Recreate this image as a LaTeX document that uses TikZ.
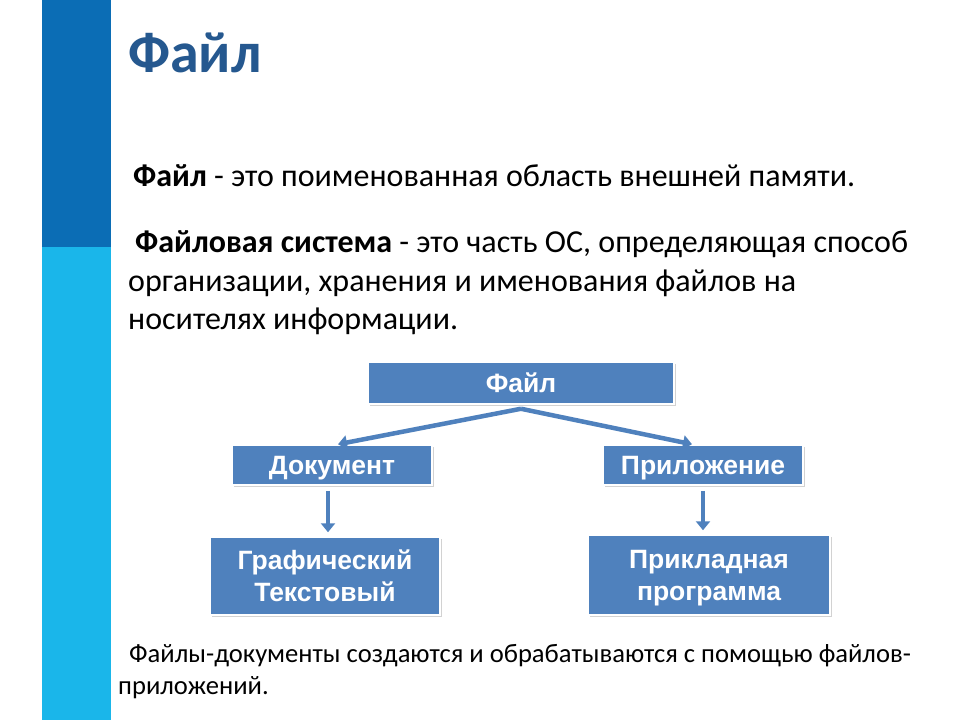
\documentclass[tikz,border=0pt]{standalone}
\usepackage{fontspec}
\setmainfont{Carlito}
\newfontfamily\boxfont{Liberation Sans}
\usetikzlibrary{arrows.meta,shadows}
\definecolor{bardark}{HTML}{0B6DB5}
\definecolor{barlight}{HTML}{1AB6EA}
\definecolor{titleblue}{HTML}{25588F}
\definecolor{boxblue}{HTML}{4F81BD}
\tikzset{
  bluebox/.style={fill=boxblue, draw=white, line width=1.5pt,
    drop shadow={shadow xshift=1.5pt, shadow yshift=-2pt, opacity=0.35},
    text=white, font=\boxfont\bfseries\fontsize{26.5}{32}\selectfont,
    align=center, inner sep=0pt, text depth=0pt},
  linkarrow/.style={draw=boxblue, line width=4.5pt,
    -{Triangle[width=14pt,length=9pt]}},
  bodytext/.style={anchor=base west, inner sep=0pt, font=\fontsize{32}{38}\selectfont},
  foottext/.style={anchor=base west, inner sep=0pt, font=\fontsize{26.6}{32}\selectfont},
}
\begin{document}
\begin{tikzpicture}[x=1pt,y=-1pt]
\useasboundingbox (0,0) rectangle (960,720);
\fill[white] (0,0) rectangle (960,720);
\fill[bardark] (42,0) rectangle (111,247);
\fill[barlight] (42,247) rectangle (111,720);

\node[anchor=base west, inner sep=0pt, text=titleblue,
  font=\bfseries\fontsize{58}{60}\selectfont] (title) at (128,72) {Файл};

\node[bodytext] (l1) at (133,186) {\textbf{Файл} - это поименованная область внешней памяти.};
\node[bodytext] (l2) at (135,252) {\textbf{Файловая система} - это часть ОС, определяющая способ};
\node[bodytext] (l3) at (128,291) {организации, хранения и именования файлов на};
\node[bodytext] (l4) at (128,329) {носителях информации.};

\node[bluebox, minimum width=306pt, minimum height=42pt] (fl) at (521,383) {Файл};
\node[bluebox, minimum width=200pt, minimum height=40pt] (doc) at (332,465) {Документ};
\node[bluebox, minimum width=200pt, minimum height=40pt] (app) at (703,465) {Приложение};
\node[bluebox, minimum width=230pt, minimum height=78pt] (gr) at (325,576) {Графический\\Текстовый};
\node[bluebox, minimum width=242pt, minimum height=80pt] (pr) at (709,575) {Прикладная\\программа};

\draw[linkarrow] ([yshift=-4pt]fl.south) -- ([xshift=6pt]doc.north);
\draw[linkarrow] ([yshift=-4pt]fl.south) -- ([xshift=-11pt]app.north);
\draw[linkarrow, shorten <=5pt, shorten >=4pt] ([xshift=-4pt]doc.south) -- ([xshift=-4pt]doc.south |- gr.north);
\draw[linkarrow, shorten <=5pt, shorten >=4pt] (app.south) -- (app.south |- pr.north);

\node[foottext] (f1) at (129,662) {Файлы-документы создаются и обрабатываются с помощью файлов-};
\node[foottext] (f2) at (118,694) {приложений.};
\end{tikzpicture}
\end{document}
